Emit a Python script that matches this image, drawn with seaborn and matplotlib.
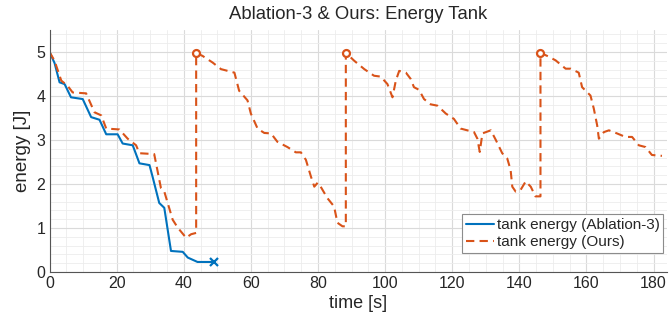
import pandas as pd
import matplotlib
matplotlib.use('Agg')
import matplotlib.pyplot as plt
from matplotlib.ticker import MultipleLocator
import seaborn as sns

# tank energy, Ablation-3 (stops early)
abl_t = [0, 1.5, 3.0, 4.5, 6.4, 9.9, 12.4, 14.9, 16.9, 20.3, 21.8, 24.8, 26.8, 29.8,
         30.7, 32.7, 34.2, 35.2, 36.2, 39.7, 41.2, 44.1, 49.1]
abl_e = [5.0, 4.75, 4.31, 4.27, 3.97, 3.93, 3.52, 3.46, 3.13, 3.13, 2.92, 2.88, 2.47, 2.43,
         2.17, 1.57, 1.46, 0.97, 0.48, 0.46, 0.33, 0.23, 0.23]

# tank energy, Ours (refilled three times)
ours_t = [0, 1.5, 3.5, 5.4, 6.9, 10.9, 13.4, 15.4, 16.9, 20.8, 23.3, 25.8, 26.8, 31.2,
          33.2, 34.2, 36.7, 38.2, 40.7, 42.2, 43.7,
          43.7, 45.6, 48.6, 51.1, 55.1, 56.5, 59.0, 60.0, 62.0, 64.0, 66.0, 67.9, 70.9,
          73.4, 74.9, 76.4, 77.9, 78.9, 79.9, 80.8, 82.8, 84.8, 85.8, 87.3, 88.3,
          88.3, 90.8, 93.8, 96.7, 98.7, 100.7, 102.2, 103.2, 104.2, 106.2, 107.6, 108.6,
          110.1, 111.6, 113.6, 115.6, 118.1, 120.5, 122.5, 124.5, 126.5, 127.5, 128.2,
          129.0, 131.5, 133.0, 134.9, 136.4, 137.4, 137.9, 138.9, 140.4, 141.9, 143.4,
          144.8, 146.3,
          146.3, 148.3, 150.8, 153.8, 155.3, 157.7, 158.7, 161.2, 162.2, 163.2, 163.7,
          165.2, 166.7, 169.1, 171.6, 173.6, 175.6, 177.6, 179.5, 182.5]
ours_e = [5.0, 4.8, 4.35, 4.23, 4.08, 4.06, 3.63, 3.56, 3.26, 3.24, 3.03, 2.88, 2.70, 2.68,
          1.91, 1.83, 1.19, 1.01, 0.78, 0.86, 0.89,
          4.98, 4.91, 4.76, 4.61, 4.53, 4.12, 3.90, 3.60, 3.26, 3.16, 3.15, 2.96, 2.84,
          2.72, 2.72, 2.55, 2.17, 1.94, 2.03, 1.94, 1.68, 1.49, 1.12, 1.04, 1.04,
          4.98, 4.80, 4.61, 4.46, 4.44, 4.27, 3.97, 4.35, 4.57, 4.53, 4.39, 4.20,
          4.14, 3.93, 3.81, 3.78, 3.60, 3.48, 3.26, 3.22, 3.18, 3.03, 2.73,
          3.15, 3.22, 3.00, 2.70, 2.58, 2.32, 1.94, 1.83, 1.87, 2.06, 1.94,
          1.72, 1.72,
          4.98, 4.91, 4.81, 4.62, 4.62, 4.53, 4.20, 4.01, 3.71, 3.33, 3.03,
          3.18, 3.22, 3.15, 3.07, 3.07, 2.88, 2.84, 2.66, 2.64]

# refill instants (circles) and end of the ablation run (cross)
reset_t = [43.7, 88.3, 146.3]
reset_e = [4.98, 4.98, 4.98]
end_t = [49.1]
end_e = [0.23]

blue = '#0072BD'
orange = '#D95319'

sns.set_style('whitegrid')
plt.rcParams['font.family'] = ['Liberation Sans', 'DejaVu Sans']

df_abl = pd.DataFrame({'t': abl_t, 'e': abl_e})
df_ours = pd.DataFrame({'t': ours_t, 'e': ours_e})

fig, ax = plt.subplots(figsize=(6.69, 3.22), dpi=100)
fig.subplots_adjust(left=0.074, right=0.997, bottom=0.155, top=0.907)

sns.lineplot(data=df_abl, x='t', y='e', sort=False, estimator=None, ax=ax,
             color=blue, linewidth=1.5, label='tank energy (Ablation-3)')
sns.lineplot(data=df_ours, x='t', y='e', sort=False, estimator=None, ax=ax,
             color=orange, linewidth=1.5, linestyle=(0, (4, 2.5)), label='tank energy (Ours)')
ax.plot(reset_t, reset_e, 'o', color=orange, markersize=5, markerfacecolor='white',
        markeredgewidth=1.6)
ax.plot(end_t, end_e, 'x', color=blue, markersize=6, markeredgewidth=1.6)

ax.set_xlim(0, 184)
ax.set_ylim(0, 5.5)
ax.xaxis.set_major_locator(MultipleLocator(20))
ax.xaxis.set_minor_locator(MultipleLocator(5))
ax.yaxis.set_major_locator(MultipleLocator(1))
ax.yaxis.set_minor_locator(MultipleLocator(0.2))
ax.grid(which='major', color='#dadada', linewidth=0.8)
ax.grid(which='minor', color='#ececec', linewidth=0.6)
ax.set_axisbelow(True)

for s in ['top', 'right']:
    ax.spines[s].set_visible(False)
for s in ['left', 'bottom']:
    ax.spines[s].set_color('#555555')
    ax.spines[s].set_linewidth(0.8)
ax.tick_params(which='major', direction='in', length=4, labelsize=11.5, colors='#262626',
               pad=3)
ax.tick_params(which='major', color='#555555')
ax.tick_params(which='minor', length=0)

ax.set_xlabel('time [s]', fontsize=13, color='#262626', labelpad=3)
ax.set_ylabel('energy [J]', fontsize=13.5, color='#262626', labelpad=4)
ax.set_title('Ablation-3 & Ours: Energy Tank', fontsize=13.3, pad=8)

leg = ax.legend(loc='lower right', bbox_to_anchor=(0.994, 0.079), fontsize=11,
                frameon=True, fancybox=False, edgecolor='#8c8c8c', framealpha=1,
                borderpad=0.25, handlelength=1.85, handletextpad=0.15, borderaxespad=0,
                labelspacing=0.2)
leg.get_frame().set_linewidth(0.8)

fig.savefig('out.png', dpi=100)
